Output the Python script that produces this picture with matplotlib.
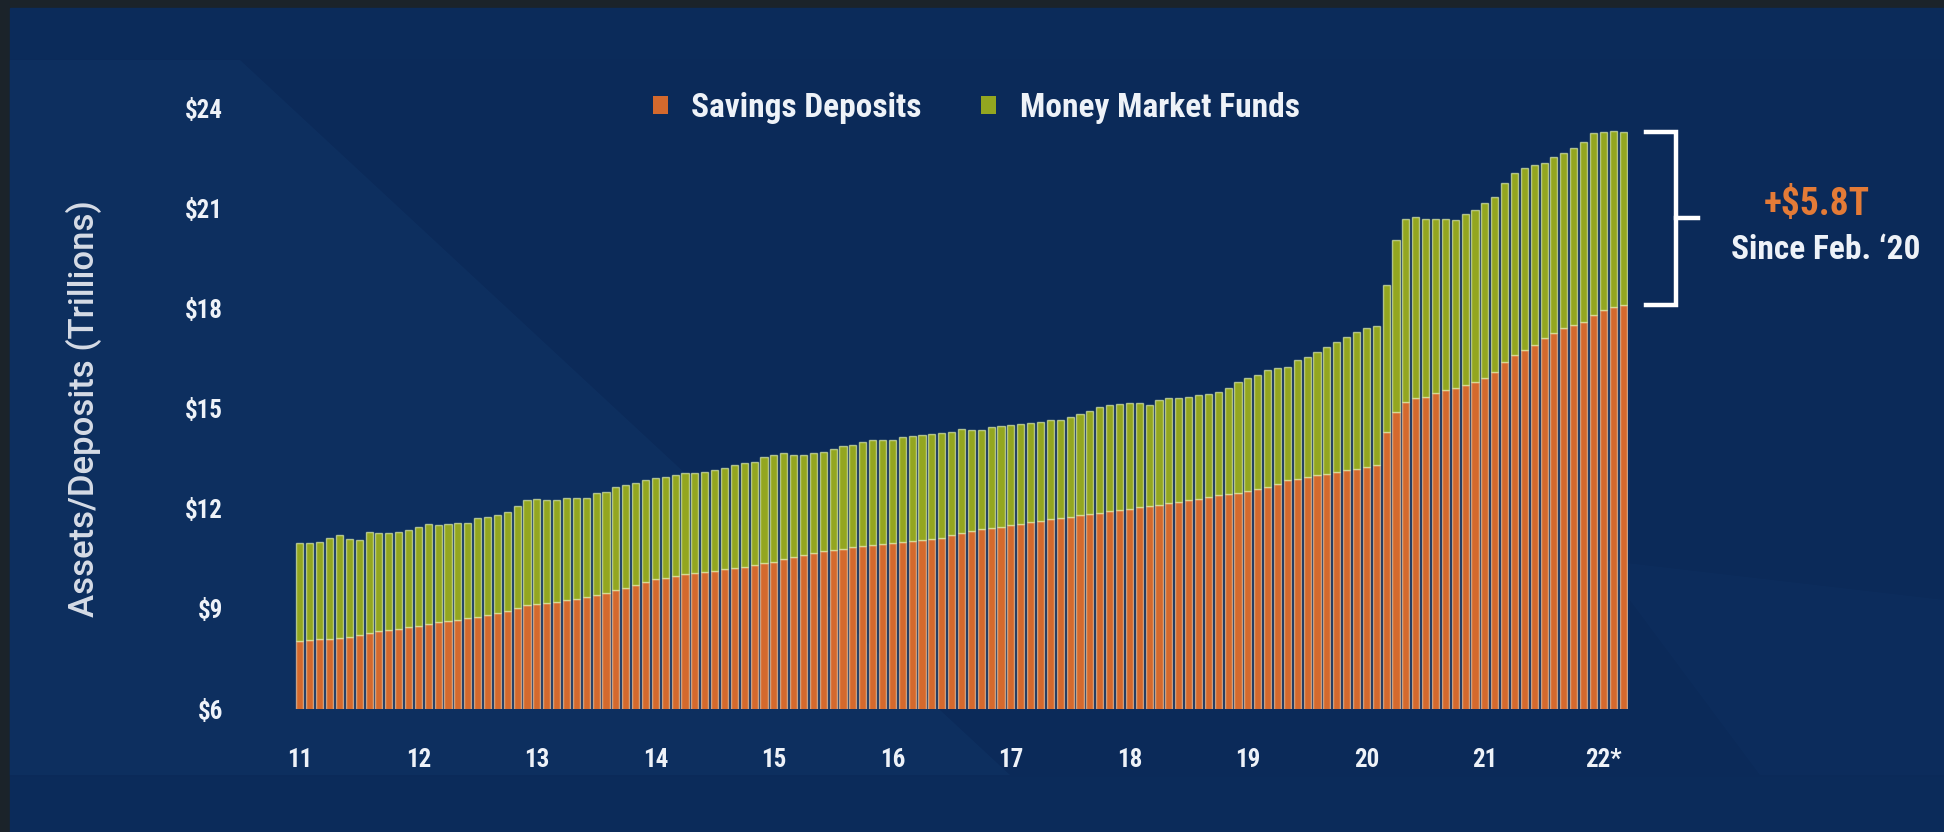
import numpy as np
import matplotlib.pyplot as plt
from matplotlib import font_manager
from matplotlib.patches import Rectangle, Polygon
from matplotlib.lines import Line2D

# Monthly values, Jan 2011 - Mar 2022, in trillions of dollars
savings_deposits = [
    8.04, 8.06, 8.09, 8.11, 8.14, 8.17, 8.22, 8.28, 8.33, 8.37, 8.41, 8.46,
    8.50, 8.55, 8.60, 8.64, 8.68, 8.72, 8.76, 8.82, 8.88, 8.95, 9.02, 9.10,
    9.15, 9.18, 9.21, 9.25, 9.30, 9.35, 9.42, 9.48, 9.55, 9.62, 9.70, 9.80,
    9.88, 9.93, 9.98, 10.03, 10.07, 10.10, 10.14, 10.18, 10.22, 10.26, 10.31, 10.36,
    10.40, 10.48, 10.56, 10.62, 10.68, 10.72, 10.76, 10.80, 10.84, 10.87, 10.90, 10.93,
    10.96, 10.99, 11.02, 11.05, 11.08, 11.12, 11.20, 11.27, 11.33, 11.38, 11.42, 11.46,
    11.50, 11.55, 11.60, 11.64, 11.68, 11.72, 11.76, 11.80, 11.84, 11.88, 11.92, 11.96,
    12.00, 12.04, 12.08, 12.12, 12.16, 12.20, 12.25, 12.30, 12.35, 12.40, 12.44, 12.48,
    12.52, 12.58, 12.65, 12.75, 12.85, 12.90, 12.95, 13.00, 13.05, 13.10, 13.15, 13.20,
    13.25, 13.30, 14.30, 14.90, 15.20, 15.30, 15.35, 15.45, 15.55, 15.60, 15.70, 15.80,
    15.90, 16.10, 16.40, 16.60, 16.75, 16.90, 17.10, 17.25, 17.40, 17.50, 17.60, 17.80,
    17.95, 18.05, 18.10,
]

# savings + money market funds (top of each stack)
total_assets = [
    10.96, 10.98, 11.01, 11.11, 11.21, 11.08, 11.06, 11.31, 11.26, 11.28, 11.31, 11.36,
    11.46, 11.54, 11.51, 11.54, 11.56, 11.58, 11.71, 11.76, 11.81, 11.91, 12.08, 12.26,
    12.28, 12.26, 12.26, 12.31, 12.31, 12.33, 12.46, 12.51, 12.64, 12.71, 12.76, 12.86,
    12.91, 12.96, 13.01, 13.06, 13.08, 13.11, 13.16, 13.21, 13.31, 13.36, 13.40, 13.55,
    13.60, 13.66, 13.60, 13.60, 13.66, 13.70, 13.80, 13.87, 13.90, 14.00, 14.05, 14.05,
    14.07, 14.15, 14.17, 14.20, 14.25, 14.27, 14.30, 14.40, 14.35, 14.35, 14.45, 14.47,
    14.50, 14.53, 14.57, 14.60, 14.65, 14.67, 14.75, 14.85, 14.93, 15.05, 15.10, 15.13,
    15.15, 15.17, 15.10, 15.25, 15.30, 15.30, 15.35, 15.40, 15.43, 15.50, 15.60, 15.80,
    15.90, 16.00, 16.15, 16.20, 16.25, 16.45, 16.55, 16.70, 16.85, 17.00, 17.15, 17.30,
    17.40, 17.47, 18.69, 20.04, 20.69, 20.74, 20.69, 20.69, 20.69, 20.64, 20.84, 20.94,
    21.14, 21.34, 21.74, 22.04, 22.19, 22.29, 22.34, 22.54, 22.64, 22.79, 22.99, 23.24,
    23.29, 23.32, 23.29,
]

year_labels = ["11", "12", "13", "14", "15", "16", "17", "18", "19", "20", "21", "22*"]
y_ticks = [6, 9, 12, 15, 18, 21, 24]
feb_2020 = 109  # index of Feb 2020

savings = np.array(savings_deposits)
money_market = np.array(total_assets) - savings
x = np.arange(len(savings))

W, H = 1944, 832
NAVY = "#0b2a59"
ORANGE = "#d4692d"
GREEN = "#93a620"
TEXT = "#eef2f8"

# narrow bold face for numbers and labels, whatever is installed
fonts = font_manager.fontManager.ttflist
names = {f.name for f in fonts}
COND = {"family": "Roboto"}
for n in ["Liberation Sans Narrow", "Roboto Condensed", "Open Sans Condensed"]:
    if n in names:
        COND = {"family": n}
        break
else:
    if any(f.name == "DejaVu Sans" and f.stretch == "condensed" for f in fonts):
        COND = {"family": "DejaVu Sans", "stretch": "condensed"}


def fx(px):
    return px / W


def fy(py):
    return 1 - py / H


fig = plt.figure(figsize=(W / 100, H / 100), dpi=100, facecolor="#1b232a")

# background panels
fig.add_artist(Rectangle((fx(10), 0), 1, fy(8), transform=fig.transFigure,
                         color="#0b2b5a", zorder=0))
fig.add_artist(Rectangle((fx(10), fy(775)), 1, fy(60) - fy(775),
                         transform=fig.transFigure, color=NAVY, zorder=0))
fig.add_artist(Polygon([(fx(10), fy(60)), (fx(240), fy(60)), (fx(1010), fy(775)),
                        (fx(10), fy(775))], closed=True, transform=fig.transFigure,
                       color="#12396c", alpha=0.35, lw=0, zorder=0))
fig.add_artist(Polygon([(fx(1600), fy(560)), (fx(1944), fy(600)), (fx(1944), fy(775)),
                        (fx(1760), fy(775))], closed=True, transform=fig.transFigure,
                       color="#0f3366", alpha=0.3, lw=0, zorder=0))

ax = fig.add_axes([fx(295), fy(709), fx(1333), fy(108) - fy(709)])
ax.set_facecolor("none")

ax.bar(x, savings, width=0.72, color=ORANGE, edgecolor=(1, 0.85, 0.7, 0.6),
       linewidth=1.0, label="Savings Deposits", zorder=2)
ax.bar(x, money_market, bottom=savings, width=0.72, color=GREEN,
       edgecolor=(0.95, 1, 0.75, 0.6), linewidth=1.0,
       label="Money Market Funds", zorder=2)

ax.set_xlim(-0.5, len(x) - 0.5)
ax.set_ylim(6, 24)
ax.set_yticks(y_ticks)
ax.set_yticklabels([f"${v}" for v in y_ticks], weight="bold", fontsize=18,
                   color=TEXT, **COND)
ax.set_xticks(np.arange(len(year_labels)) * 12)
ax.set_xticklabels(year_labels, weight="bold", fontsize=18, color=TEXT, **COND)
ax.tick_params(axis="y", length=0, pad=52)
ax.tick_params(axis="x", length=0, pad=28)
for s in ax.spines.values():
    s.set_visible(False)

fig.text(fx(84), fy(409), "Assets/Deposits (Trillions)", rotation=90,
         ha="center", va="center", fontsize=25, family="Roboto",
         weight="medium", color="#d6dce6")

leg = ax.legend(loc="center", bbox_to_anchor=(0.511, 1.0), ncol=2, frameon=False,
                handlelength=0.45, handleheight=0.45, handletextpad=0.7,
                columnspacing=1.8, prop=dict(weight="bold", size=24, **COND))
for t in leg.get_texts():
    t.set_color(TEXT)
for h in leg.legend_handles:
    h.set_edgecolor("none")

# bracket showing the rise since Feb 2020
top = total_assets[-1]
bot = savings_deposits[-1]
mid = (top + bot) / 2
x0, x1, x2 = 136.3, 139.4, 141.6
ax.add_line(Line2D([x0, x1, x1, x0], [top, top, bot, bot], color="white", lw=3.2,
                   solid_joinstyle="miter", clip_on=False))
ax.add_line(Line2D([x1, x2], [mid, mid], color="white", lw=3.2, clip_on=False))

gain = total_assets[-1] - total_assets[feb_2020]
ax.text(153.6, mid + 0.4, f"+${gain:.1f}T", ha="center", va="center",
        weight="bold", fontsize=27, color="#e47b37", clip_on=False, **COND)
ax.text(154.5, mid - 0.95, "Since Feb. \u201820", ha="center", va="center",
        weight="bold", fontsize=24, color=TEXT, clip_on=False, **COND)

fig.savefig("out.png", dpi=100, facecolor=fig.get_facecolor())
